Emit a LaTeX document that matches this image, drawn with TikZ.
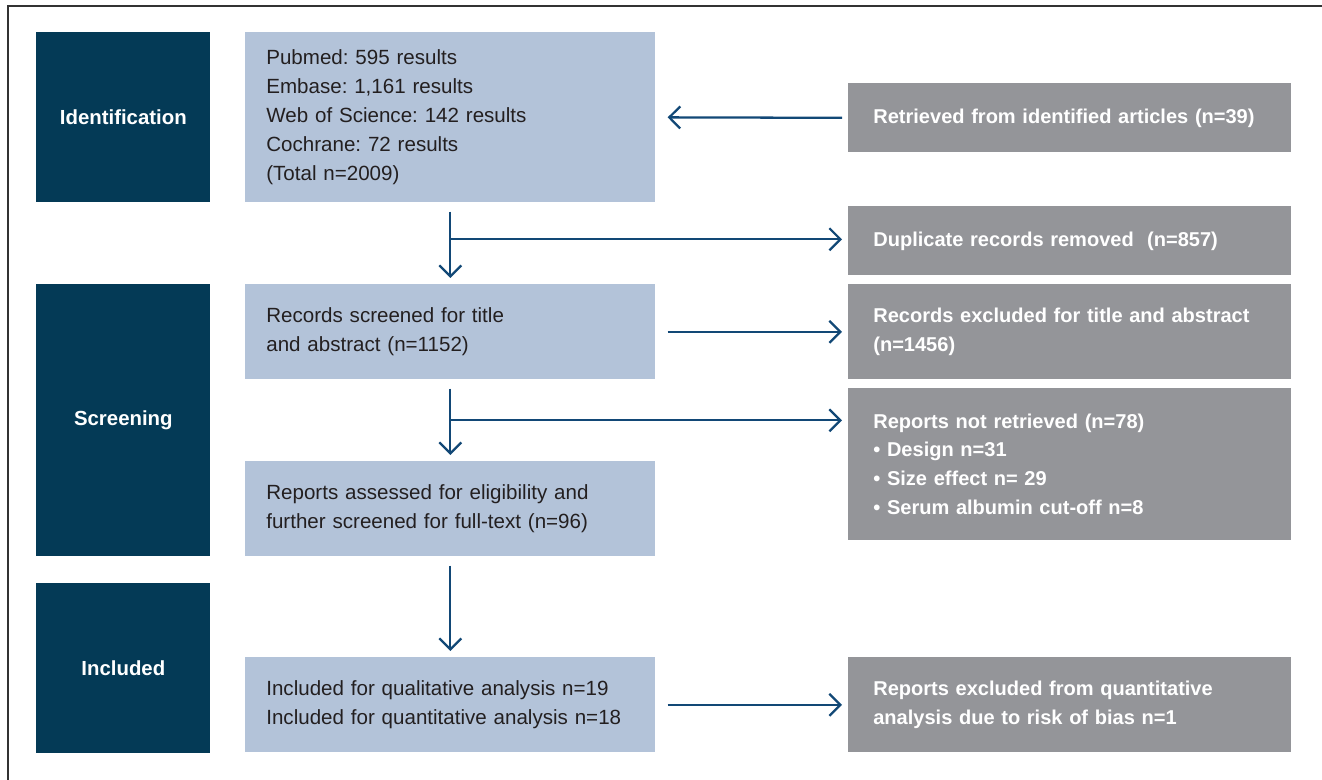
\documentclass[tikz,border=0pt]{standalone}
\usepackage{fontspec}
\setmainfont{Liberation Sans}
\usepackage{xcolor}
\usepackage{tikz}
\usetikzlibrary{arrows.meta, positioning, calc}
\definecolor{stagebg}{RGB}{4,58,86}
\definecolor{flowbg}{RGB}{179,195,217}
\definecolor{outbg}{RGB}{148,149,153}
\definecolor{arrowcol}{RGB}{18,72,118}
\definecolor{flowtext}{RGB}{35,31,32}
\frenchspacing

\begin{document}
\begin{tikzpicture}[
  x=0.02cm, y=-0.02cm,
  every node/.style={font=\fontsize{11.7pt}{16.5pt}\selectfont},
  stage/.style={rectangle, anchor=north west, fill=stagebg, text=white, text width=3.48cm, inner xsep=0pt, align=center, font=\fontsize{11.6pt}{16.5pt}\selectfont\bfseries},
  flow/.style={rectangle, anchor=north west, fill=flowbg, text=flowtext, text width=7.36cm, inner xsep=0.42cm, align=left},
  outbox/.style={rectangle, anchor=north west, fill=outbg, text=white, text width=7.86cm, inner xsep=0.5cm, align=left, font=\fontsize{11.4pt}{16.5pt}\selectfont\bfseries},
  arr/.style={-{Straight Barb[length=0.22cm, width=0.44cm]}, line width=1.3pt, arrowcol},
  toright/.style={arr, shorten <=0.24cm, shorten >=0.12cm},
  toleft/.style={arr, shorten <=0.12cm, shorten >=0.24cm},
  down/.style={arr, shorten <=0.18cm, shorten >=0.12cm}
]
\useasboundingbox (0,0) rectangle (1322,780);
\draw[black!80, line width=0.9pt] (8,780) -- (8,6) -- (1322,6);

\node[stage, minimum height=3.4cm] (ident) at (36,32) {Identification};
\node[stage, minimum height=5.44cm] (screen) at (36,284) {Screening};
\node[stage, minimum height=3.4cm] (incl) at (36,583) {Included};

\node[flow, minimum height=3.4cm] (search) at (245,32) {Pubmed: 595 results\\Embase: 1,161 results\\Web of Science: 142 results\\Cochrane: 72 results\\(Total n=2009)};
\node[flow, minimum height=1.9cm] (screened) at (245,284) {Records screened for title\\and abstract (n=1152)};
\node[flow, minimum height=1.9cm] (assessed) at (245,461) {Reports assessed for eligibility and\\further screened for full-text (n=96)};
\node[flow, minimum height=1.9cm] (included) at (245,657) {Included for qualitative analysis n=19\\Included for quantitative analysis n=18};

\node[outbox, minimum height=1.38cm] (retrieved) at (848,83) {Retrieved from identified articles (n=39)};
\node[outbox, minimum height=1.38cm] (dupl) at (848,206) {Duplicate records removed\ \ (n=857)};
\node[outbox, minimum height=1.9cm] (exclta) at (848,284) {Records excluded for title and abstract\\(n=1456)};
\node[outbox, minimum height=3.04cm] (notret) at (848,388) {Reports not retrieved (n=78)\\• Design n=31\\• Size effect n= 29\\• Serum albumin cut-off n=8};
\node[outbox, minimum height=1.9cm] (exclbias) at (848,657) {Reports excluded from quantitative\\analysis due to risk of bias n=1};

\coordinate (split1) at ($(search.south)!0.45!(screened.north)$);
\coordinate (split2) at ($(screened.south)!0.5!(assessed.north)$);

\draw[toleft] (retrieved.west) -- (search.east);
\draw[down] (search.south) -- (screened.north);
\draw[toright, shorten <=0pt] (split1) -- (split1 -| dupl.west);
\draw[toright] (screened.east) -- (exclta.west);
\draw[down] (screened.south) -- (assessed.north);
\draw[toright, shorten <=0pt] (split2) -- (split2 -| notret.west);
\draw[down] (assessed.south) -- (included.north);
\draw[toright] (included.east) -- (exclbias.west);
\end{tikzpicture}
\end{document}
